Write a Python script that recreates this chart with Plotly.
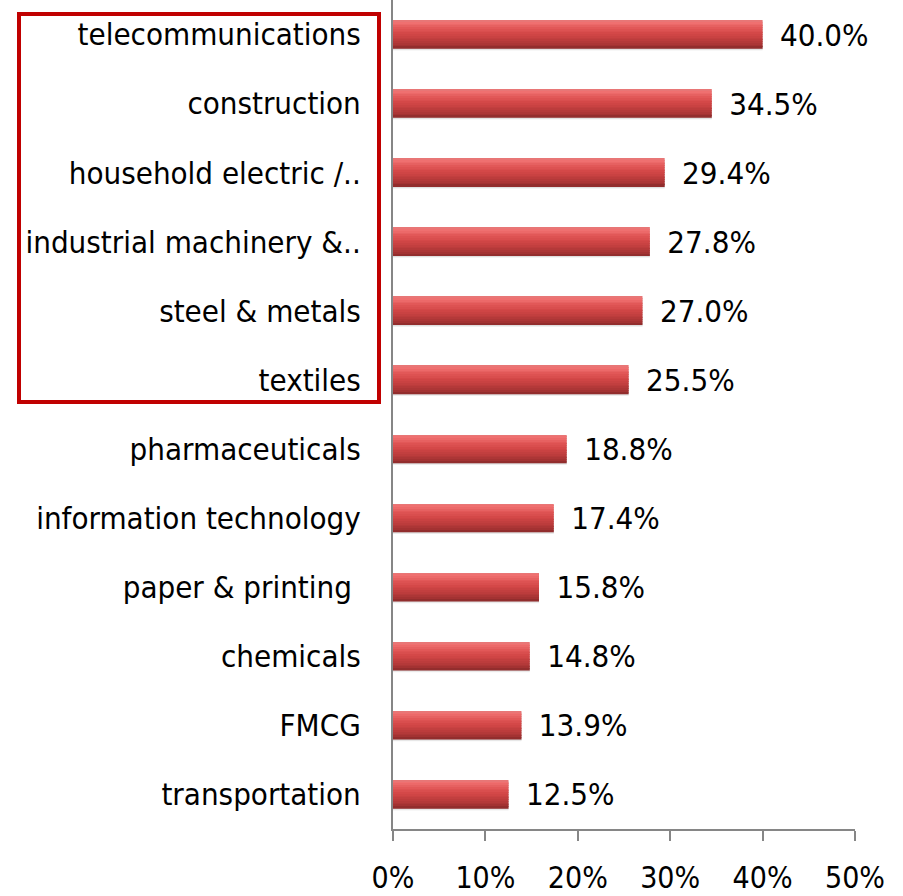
import plotly.graph_objects as go

categories = ["telecommunications", "construction", "household electric /..",
              "industrial machinery &..", "steel & metals", "textiles",
              "pharmaceuticals", "information technology", "paper & printing\u00a0",
              "chemicals", "FMCG", "transportation"]
values = [40.0, 34.5, 29.4, 27.8, 27.0, 25.5, 18.8, 17.4, 15.8, 14.8, 13.9, 12.5]
tick_vals = [0, 10, 20, 30, 40, 50]
tick_text = ["0%", "10%", "20%", "30%", "40%", "50%"]

FONT = "DejaVu Sans Condensed, DejaVu Sans, sans-serif"
BAR_W = 0.405

# vertical gradient stops (fraction from top of bar, rgb)
stops = [(0.00, (229, 120, 120)), (0.10, (240, 112, 112)), (0.30, (224, 86, 86)),
         (0.50, (210, 70, 70)), (0.72, (188, 60, 60)), (0.90, (165, 51, 51)),
         (1.00, (138, 42, 42))]

def col(t):
    for (t0, c0), (t1, c1) in zip(stops[:-1], stops[1:]):
        if t0 <= t <= t1:
            f = (t - t0) / (t1 - t0) if t1 > t0 else 0
            return "rgb(%d,%d,%d)" % tuple(round(a + (b - a) * f) for a, b in zip(c0, c1))
    return "rgb(%d,%d,%d)" % stops[-1][1]

fig = go.Figure()
# soft shadow under bars
shadow = []
for k, g in enumerate([215, 228, 240]):
    shadow.append(go.Bar(y=categories, x=values, orientation="h",
                         width=BAR_W, offset=-BAR_W / 2 + 0.012 * (k + 1) * 0.8,
                         marker=dict(color="rgb(%d,%d,%d)" % (g, g, g), line=dict(width=0)),
                         hoverinfo="skip", showlegend=False))
for tr in shadow[::-1]:
    fig.add_trace(tr)

N = 16
for i in range(N):
    t = (i + 0.5) / N
    fig.add_trace(go.Bar(y=categories, x=values, orientation="h",
                         width=BAR_W / N + 0.003,
                         offset=-BAR_W / 2 + i * BAR_W / N,
                         marker=dict(color=col(t), line=dict(width=0)),
                         hoverinfo="skip", showlegend=False))

# value labels
fig.add_trace(go.Bar(y=categories, x=values, orientation="h",
                     width=BAR_W, offset=-BAR_W / 2,
                     marker=dict(color="rgba(0,0,0,0)", line=dict(width=0)),
                     text=["\u00a0\u2009%.1f%%" % v for v in values],
                     textposition="outside", cliponaxis=False, constraintext="none",
                     textfont=dict(family=FONT, size=31, color="black"),
                     hoverinfo="skip", showlegend=False))

fig.update_layout(
    width=903, height=896, barmode="overlay",
    margin=dict(l=393, r=48, t=0, b=67, autoexpand=False),
    paper_bgcolor="white", plot_bgcolor="white",
    font=dict(family=FONT, size=31, color="black"),
    xaxis=dict(range=[0, 50], tickvals=tick_vals, ticktext=tick_text,
               showgrid=False, zeroline=False, showline=True, automargin=False,
               linecolor="#868686", linewidth=2, ticks="outside",
               ticklen=10, tickwidth=2, tickcolor="#868686",
               ticklabelstandoff=11,
               tickfont=dict(family=FONT, size=30, color="black")),
    yaxis=dict(autorange="reversed", showgrid=False, zeroline=False, automargin=False,
               showline=True, linecolor="#868686", linewidth=2,
               ticks="", ticklabelstandoff=24,
               tickfont=dict(family=FONT, size=31, color="black")),
    shapes=[dict(type="rect", xref="paper", yref="paper",
                 x0=(19 - 393) / 462, x1=(379 - 393) / 462,
                 y0=1 - 402 / 829, y1=1 - 14 / 829,
                 line=dict(color="#C00000", width=4), fillcolor="rgba(0,0,0,0)")],
)

fig.write_html("out.html", config={"displayModeBar": False},
               post_script="document.body.style.margin='0';")
